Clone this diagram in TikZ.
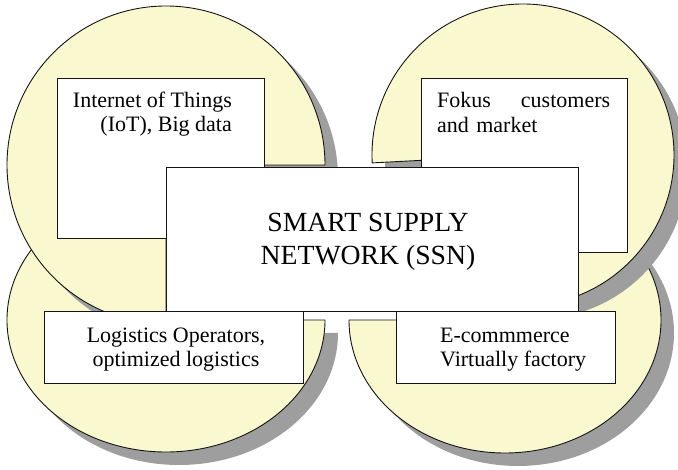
\documentclass[tikz,border=0pt]{standalone}
\usepackage{fontspec}
\setmainfont{Liberation Serif}
\definecolor{pieyellow}{RGB}{250,248,206}
\definecolor{pieshadow}{RGB}{158,158,158}
\definecolor{edgeline}{RGB}{20,20,20}
\begin{document}
\begin{tikzpicture}[x=1pt,y=-1pt,
  pieshape/.style={fill=pieyellow,draw=edgeline,line width=0.9pt,line join=round},
  pieshade/.style={fill=pieshadow},
  textbox/.style={fill=white,draw=edgeline,line width=1.2pt,inner sep=0pt,anchor=north west},
  smalltext/.style={font=\fontsize{22}{24.5}\selectfont,inner sep=0pt},
  bigtext/.style={font=\fontsize{27.7}{33}\selectfont,inner sep=0pt}]
\useasboundingbox (0,0) rectangle (678,470);

% bottom-left quarter-cut ellipse with its shadow
\begin{scope}[shift={(13,13)}]
  \fill[pieshade] (166,320) -- ++(159,0) arc[start angle=0,end angle=270,x radius=159,y radius=132] -- cycle;
\end{scope}
\draw[pieshape] (166,320) -- ++(159,0) arc[start angle=0,end angle=270,x radius=159,y radius=132] -- cycle;

% bottom-right quarter-cut ellipse
\begin{scope}[shift={(13,13)}]
  \fill[pieshade] (505,320) -- ++(0,-133) arc[start angle=270,end angle=540,x radius=156,y radius=133] -- cycle;
\end{scope}
\draw[pieshape] (505,320) -- ++(0,-133) arc[start angle=270,end angle=540,x radius=156,y radius=133] -- cycle;

% top-left quarter-cut circle
\begin{scope}[shift={(13,13)}]
  \fill[pieshade] (166,165) -- ++(0,159) arc[start angle=90,end angle=360,radius=159] -- cycle;
\end{scope}
\draw[pieshape] (166,165) -- ++(0,159) arc[start angle=90,end angle=360,radius=159] -- cycle;

% top-right quarter-cut circle, turned slightly
\begin{scope}[shift={(13,13)}]
  \fill[pieshade,rotate around={3:(523,155)}] (523,155) -- ++(-151,0) arc[start angle=180,end angle=450,radius=151] -- cycle;
\end{scope}
\draw[pieshape,rotate around={3:(523,155)}] (523,155) -- ++(-151,0) arc[start angle=180,end angle=450,radius=151] -- cycle;

% text boxes
\node[textbox,minimum width=207pt,minimum height=160pt] (iotbox) at (57,78) {};
\node[textbox,minimum width=206pt,minimum height=174pt] (fokusbox) at (421,78) {};
\node[textbox,minimum width=412pt,minimum height=144pt] (ssnbox) at (166,167) {};
\node[textbox,minimum width=259pt,minimum height=72pt] (logbox) at (44,311) {};
\node[textbox,minimum width=219pt,minimum height=72pt] (ecombox) at (396,311) {};

% labels (multi-line labels are anchored on the baseline of their last line)
\node[smalltext,anchor=base east,align=right] (iottext) at (232,132) {Internet of Things\\(IoT), Big data};
\node[smalltext,anchor=base west,text width=173pt,align=left] (fokustext) at (437,108) {Fokus\hfill customers\\and market};
\node[bigtext,anchor=base,align=center] (ssntext) at (368,265) {SMART SUPPLY\\NETWORK (SSN)};
\node[smalltext,anchor=base,align=center] (logtext) at (176,367) {Logistics Operators,\\optimized logistics};
\node[smalltext,anchor=base west,align=left] (ecomtext) at (440,367) {E-commmerce\\Virtually factory};
\end{tikzpicture}
\end{document}
